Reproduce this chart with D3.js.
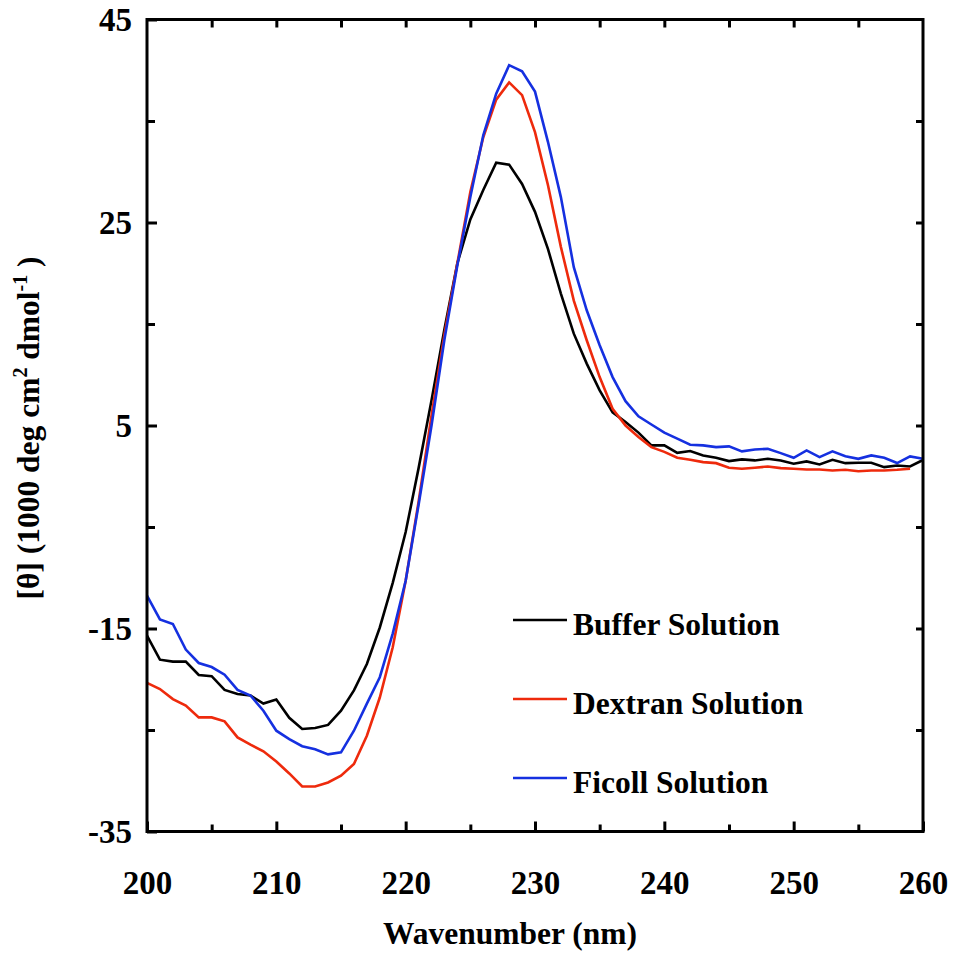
<!DOCTYPE html>
<html><head><meta charset="utf-8">
<script src="https://cdn.jsdelivr.net/npm/d3@7"></script>
<style>
body{margin:0;background:#fff;}
text{font-family:"Liberation Serif","Times New Roman",serif;font-weight:bold;fill:#000;}
</style></head>
<body><svg id="c" width="956" height="956"></svg>
<script>
const wavelengths = d3.range(200, 261, 1);
const bufferVals = [
 -15.7,-18.07,-18.26,-18.26,-19.58,-19.7,-21.05,-21.45,-21.6,-22.4,
 -22.0,-23.8,-24.9,-24.8,-24.5,-23.1,-21.1,-18.5,-14.9,-10.5,
 -5.5,0.8,7.5,14.5,21.0,25.3,28.2,30.9,30.7,28.8,
 26.05,22.4,18.0,14.05,11.1,8.46,6.3,5.34,4.3,3.04,
 3.04,2.3,2.48,2.05,1.82,1.49,1.66,1.56,1.72,1.56,
 1.23,1.46,1.16,1.62,1.29,1.33,1.33,0.9,1.06,0.96,1.6];
const dextranVals = [
 -20.36,-20.96,-21.95,-22.6,-23.76,-23.76,-24.15,-25.73,-26.45,-27.1,
 -28.1,-29.28,-30.56,-30.56,-30.17,-29.5,-28.35,-25.56,-21.8,-16.85,
 -10.3,-2.5,6.0,14.0,21.0,28.0,33.4,37.1,38.8,37.55,
 33.9,28.7,22.6,17.3,13.4,9.77,6.65,5.0,3.86,2.87,
 2.4,1.82,1.62,1.39,1.29,0.84,0.74,0.84,0.96,0.8,
 0.74,0.67,0.67,0.57,0.64,0.5,0.57,0.57,0.64,0.74];
const ficollVals = [
 -11.76,-14.1,-14.55,-17.08,-18.4,-18.8,-19.55,-21.05,-21.6,-23.1,
 -25.07,-25.9,-26.6,-26.9,-27.4,-27.2,-25.07,-22.4,-19.8,-15.5,
 -10.3,-2.8,5.0,13.5,20.8,27.5,33.6,37.7,40.5,39.9,
 37.9,32.95,27.5,20.6,16.35,12.9,9.77,7.4,5.9,5.1,
 4.3,3.7,3.1,3.04,2.87,2.94,2.45,2.64,2.7,2.28,
 1.82,2.55,1.88,2.45,1.98,1.72,2.05,1.82,1.3,1.95,1.72];
const seriesNames = ["Buffer Solution","Dextran Solution","Ficoll Solution"];
const seriesColors = ["#000000","#ee2a0c","#1530e0"];
const xTickLabels = [200,210,220,230,240,250,260];
const yTickLabels = [45,25,5,-15,-35];

const svg = d3.select("#c");
const x = d3.scaleLinear().domain([200,260]).range([147,923]);
const y = d3.scaleLinear().domain([-35,45]).range([831.5,19.5]);

const series = [bufferVals, dextranVals, ficollVals].map((v,i)=>({
  name: seriesNames[i], color: seriesColors[i],
  pts: v.map((d,j)=>[wavelengths[j], d])
}));

const line = d3.line().x(d=>x(d[0])).y(d=>y(d[1]));
const gLines = svg.append("g");
series.forEach(s=>{
  gLines.append("path").attr("d", line(s.pts)).attr("fill","none")
    .attr("stroke", s.color).attr("stroke-width",2.6).attr("stroke-linejoin","miter");
});

const fmt = d => String(d);
function styleAxis(g){
  g.selectAll("path.domain").remove();
  g.selectAll("line").attr("stroke","#000").attr("stroke-width",3);
}
function styleText(g){
  g.attr("font-family",null).attr("font-size",null);
  g.selectAll("text").style("font-family","'Liberation Serif','Times New Roman',serif")
   .style("font-weight","bold").style("font-size","33px");
}
// bottom major
svg.append("g").attr("transform",`translate(0,${y(-35)})`)
  .call(d3.axisBottom(x).tickValues(xTickLabels).tickSize(-10).tickPadding(39).tickFormat(fmt))
  .call(styleAxis).call(styleText);
// bottom minor
svg.append("g").attr("transform",`translate(0,${y(-35)})`)
  .call(d3.axisBottom(x).tickValues(d3.range(205,260,10)).tickSize(-7).tickFormat(""))
  .call(styleAxis);
// top
svg.append("g").attr("transform",`translate(0,${y(45)})`)
  .call(d3.axisTop(x).tickValues(d3.range(205,260,5)).tickSize(-8).tickFormat(""))
  .call(styleAxis);
// left major labeled
svg.append("g").attr("transform",`translate(${x(200)},0)`)
  .call(d3.axisLeft(y).tickValues(yTickLabels).tickSize(-10).tickPadding(15).tickFormat(fmt))
  .call(styleAxis).call(styleText);
// left minor
svg.append("g").attr("transform",`translate(${x(200)},0)`)
  .call(d3.axisLeft(y).tickValues(d3.range(35,-35,-20)).tickSize(-8).tickFormat(""))
  .call(styleAxis);
// right
svg.append("g").attr("transform",`translate(${x(260)},0)`)
  .call(d3.axisRight(y).tickValues(d3.range(35,-35,-10)).tickSize(-7).tickFormat(""))
  .call(styleAxis);

// frame
svg.append("rect").attr("x",x(200)).attr("y",y(45))
  .attr("width",x(260)-x(200)).attr("height",y(-35)-y(45))
  .attr("fill","none").attr("stroke","#000").attr("stroke-width",3);

// axis titles
svg.append("text").attr("x",510).attr("y",944)
  .attr("text-anchor","middle").attr("font-size",31.5).text("Wavenumber (nm)");

const yl = svg.append("text").attr("transform","translate(39,428) rotate(-90)")
  .attr("text-anchor","middle").attr("font-size",31.5);
yl.append("tspan").text("[θ] (1000 deg cm");
yl.append("tspan").attr("font-size",20).attr("dy",-12).text("2");
yl.append("tspan").attr("dy",12).text(" dmol");
yl.append("tspan").attr("font-size",20).attr("dy",-12).text("-1");
yl.append("tspan").attr("dy",12).text(" )");

// legend
const legY = [620, 699, 778];
series.forEach((s,i)=>{
  svg.append("line").attr("x1",513).attr("x2",567).attr("y1",legY[i]).attr("y2",legY[i])
    .attr("stroke",s.color).attr("stroke-width",2.6);
  svg.append("text").attr("x",573).attr("y",legY[i]+15).attr("font-size",31.5).text(s.name);
});
</script></body></html>
